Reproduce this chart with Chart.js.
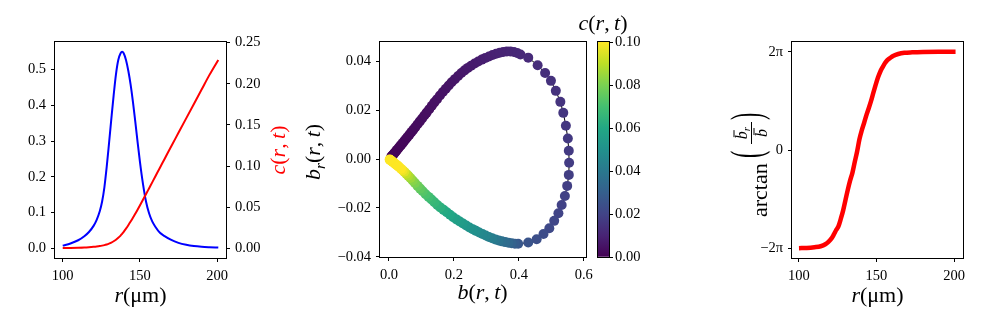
<!DOCTYPE html>
<html><head><meta charset="utf-8">
<script src="https://cdn.jsdelivr.net/npm/chart.js@4.4.1/dist/chart.umd.min.js"></script>
<style>
html,body{margin:0;padding:0;background:#fff;}
#wrap{position:relative;width:981px;height:327px;overflow:hidden;background:#fff;}
canvas{position:absolute;top:0;}
</style></head><body>
<div id="wrap">
<canvas id="c1" width="300" height="327" style="left:0px"></canvas>
<canvas id="c2" width="300" height="327" style="left:300px"></canvas>
<canvas id="c3" width="110" height="327" style="left:560px"></canvas>
<canvas id="c4" width="281" height="327" style="left:700px"></canvas>
</div>
<script>
// ---------- data ----------
const radius = [100,105,110,114,117,120,122,124,125.5,127,128.5,130,131.5,133,134.5,136,137.5,138.5,139.5,141,142.5,144,145.5,147,148.5,150,152,154,156,158,160,163,166,170,175,180,185,190,195,200.8];
const bProfile = [0.0072,0.0132,0.0222,0.0334,0.0454,0.0625,0.0795,0.1035,0.130,0.1705,0.2275,0.2935,0.362,0.428,0.487,0.527,0.546,0.550,0.546,0.527,0.497,0.458,0.410,0.355,0.298,0.243,0.180,0.130,0.097,0.075,0.060,0.043,0.034,0.024,0.015,0.0095,0.006,0.004,0.0028,0.0018];
const cProfile = [0.0007,0.0008,0.0010,0.0013,0.0017,0.0022,0.0026,0.0031,0.0036,0.0042,0.0050,0.0060,0.0073,0.0089,0.0108,0.0131,0.0158,0.0180,0.0203,0.0242,0.0284,0.0328,0.0374,0.0422,0.0472,0.0523,0.0592,0.0662,0.0733,0.0804,0.0875,0.0982,0.1088,0.1230,0.1405,0.1580,0.1755,0.1930,0.2105,0.2290];

const scatterB = [
 0.007,0.009,0.011,0.013,0.016,0.019,0.022,0.025,0.029,0.033,0.037,0.042,0.047,0.052,0.057,0.063,0.069,0.075,0.081,0.088,0.095,0.102,0.109,0.116,0.124,0.132,0.140,0.148,0.157,0.166,0.175,0.184,0.193,0.203,0.213,0.223,0.233,0.243,0.253,0.264,0.275,0.286,0.297,0.308,0.319,0.330,0.341,0.352,0.363,0.374,0.385,0.395,0.405,
 0.429,0.458,0.481,0.499,0.514,0.528,0.537,0.545,0.551,0.554,0.555,0.554,0.549,0.542,0.532,0.522,0.509,0.494,0.476,0.455,0.429,
 0.398,0.388,0.378,0.368,0.358,0.348,0.338,0.328,0.318,0.308,0.298,0.288,0.278,0.268,0.258,0.248,0.238,0.228,0.218,0.208,0.198,0.188,0.178,0.168,0.158,0.149,0.140,0.131,0.122,0.113,0.104,0.096,0.088,0.080,0.073,0.066,0.059,0.053,0.047,0.042,0.037,0.032,0.028,0.024,0.020,0.017,0.014,0.011,0.009,0.007,0.005,0.004,0.003,0.002];
const scatterBr = [
 0.0009,0.0012,0.0015,0.0018,0.0023,0.0028,0.0033,0.0038,0.0044,0.0051,0.0057,0.0065,0.0074,0.0082,0.0090,0.0100,0.0110,0.0120,0.0130,0.0142,0.0154,0.0166,0.0178,0.0190,0.0204,0.0218,0.0232,0.0245,0.0260,0.0274,0.0288,0.0301,0.0314,0.0327,0.0340,0.0352,0.0363,0.0373,0.0382,0.0391,0.0399,0.0407,0.0414,0.0420,0.0426,0.0431,0.0435,0.0438,0.0440,0.0440,0.0438,0.0434,0.0428,
 0.0415,0.0384,0.0352,0.0320,0.0279,0.0234,0.0189,0.0136,0.0084,0.0034,-0.0015,-0.0065,-0.0110,-0.0151,-0.0188,-0.0222,-0.0253,-0.0283,-0.0307,-0.0328,-0.0342,
 -0.0347,-0.0347,-0.0345,-0.0343,-0.0340,-0.0337,-0.0333,-0.0329,-0.0324,-0.0319,-0.0313,-0.0307,-0.0301,-0.0294,-0.0287,-0.0280,-0.0272,-0.0264,-0.0256,-0.0247,-0.0238,-0.0228,-0.0218,-0.0208,-0.0198,-0.0188,-0.0177,-0.0166,-0.0155,-0.0144,-0.0132,-0.0121,-0.0110,-0.0098,-0.0088,-0.0078,-0.0068,-0.0060,-0.0052,-0.0046,-0.0040,-0.0034,-0.0029,-0.0025,-0.0021,-0.0017,-0.0014,-0.0011,-0.0009,-0.0007,-0.0005,-0.0004,-0.0003,-0.0002];
const scatterC = [
 0.0007,0.0008,0.0009,0.0010,0.0011,0.0012,0.0013,0.0014,0.0015,0.0016,0.0017,0.0018,0.0019,0.0020,0.0021,0.0022,0.0024,0.0026,0.0028,0.0030,0.0032,0.0034,0.0036,0.0038,0.0040,0.0042,0.0044,0.0046,0.0048,0.0050,0.0052,0.0054,0.0056,0.0058,0.0060,0.0063,0.0066,0.0069,0.0072,0.0075,0.0078,0.0081,0.0084,0.0087,0.0090,0.0093,0.0096,0.0099,0.0102,0.0105,0.0108,0.0111,0.0114,
 0.0120,0.0128,0.0135,0.0140,0.0145,0.0150,0.0155,0.0160,0.0165,0.0170,0.0175,0.0180,0.0185,0.0190,0.0195,0.0200,0.0210,0.0220,0.0230,0.0240,0.0255,
 0.027,0.029,0.031,0.033,0.035,0.036,0.038,0.040,0.042,0.043,0.045,0.046,0.047,0.049,0.050,0.051,0.052,0.054,0.055,0.056,0.057,0.059,0.060,0.061,0.063,0.064,0.066,0.067,0.069,0.071,0.073,0.075,0.077,0.080,0.082,0.085,0.088,0.091,0.095,0.098,0.101,0.105,0.108,0.112,0.118,0.123,0.128,0.135,0.140,0.147,0.160,0.170,0.182,0.200];

const phaseR = [100,105,110,114,117,119,121,122.5,124,125.5,127,128.5,130,131.5,133,134.5,136,137.5,139,140.5,142,143.5,145,146.5,148,149.5,151,152.5,154,155.5,157,159,161,164,168,173,180,190,201];
const phasePi = [-2.0,-1.995,-1.98,-1.96,-1.92,-1.87,-1.80,-1.72,-1.63,-1.55,-1.40,-1.23,-1.02,-0.81,-0.62,-0.46,-0.24,-0.03,0.22,0.40,0.55,0.71,0.85,1.00,1.17,1.33,1.48,1.60,1.69,1.77,1.83,1.88,1.92,1.955,1.98,1.99,1.997,2.0,2.0];

// tick values / labels
const profileRTicks = [100,150,200];
const bTicks = [0,0.1,0.2,0.3,0.4,0.5];
const cTicks = [0,0.05,0.1,0.15,0.2,0.25];
const scatterXTicks = [0,0.2,0.4,0.6];
const scatterYTicks = [-0.04,-0.02,0,0.02,0.04];
const colorbarTicks = [0,0.02,0.04,0.06,0.08,0.1];
const phaseTicks = [-2,0,2];
const phaseTickLabels = ['\u22122\u03c0','0','2\u03c0'];

// viridis colormap stops (style)
const viridis = ['#440154','#482475','#414487','#355f8d','#2a788e','#21918c','#22a884','#44bf70','#7ad151','#bddf26','#fde725'];
const cbMin = 0, cbMax = 0.1;

// ---------- helpers ----------
const SERIF = "'Liberation Serif','Times New Roman',serif";
const TICKFONT = {family: SERIF, size: 14.5};
function hex(h){return [parseInt(h.slice(1,3),16),parseInt(h.slice(3,5),16),parseInt(h.slice(5,7),16)];}
function cmap(v){
  let t = (v - cbMin)/(cbMax - cbMin); t = Math.max(0, Math.min(1, t));
  const p = t*(viridis.length-1); const i = Math.min(Math.floor(p), viridis.length-2); const f = p - i;
  const a = hex(viridis[i]), b = hex(viridis[i+1]);
  return 'rgb(' + a.map((x,k)=>Math.round(x + (b[k]-x)*f)).join(',') + ')';
}
const minus = s => s.replace('-', '\u2212');
function makeAxis(position, min, max, values, fmt, fit, pad){
  return {
    type:'linear', position, min, max,
    afterBuildTicks: s => { s.ticks = values.map(v => ({value: v})); },
    afterFit: fit,
    grid:{display:true, drawOnChartArea:false, drawTicks:true, tickLength:4, color:'#000', lineWidth:1},
    border:{display:false},
    ticks:{color:'#000', font:TICKFONT, padding: pad === undefined ? 5 : pad, maxRotation:0, autoSkip:false, callback:(v)=>fmt(v)}
  };
}
function mfont(s, it){ return (it ? 'italic ' : '') + s + 'px ' + SERIF; }
function drawMath(ctx, parts, cx, cy, size, color, rotate){
  ctx.save();
  ctx.translate(cx, cy);
  if (rotate) ctx.rotate(-Math.PI/2);
  ctx.fillStyle = color; ctx.textAlign = 'left'; ctx.textBaseline = 'alphabetic';
  let total = 0;
  const ms = parts.map(p => { const s = p.sub ? size*0.7 : size; ctx.font = mfont(s, p.it); const w = ctx.measureText(p.t).width; total += w; return {p, s, w}; });
  let x = -total/2; const base = size*0.24;
  for (const m of ms) { ctx.font = mfont(m.s, m.p.it); ctx.fillText(m.p.t, x, base + (m.p.sub ? size*0.22 : 0)); x += m.w; }
  ctx.restore();
}
const crt = [{t:'c',it:1},{t:'('},{t:'r',it:1},{t:',\u2009'},{t:'t',it:1},{t:')'}];
const brt = [{t:'b',it:1},{t:'r',it:1,sub:1},{t:'('},{t:'r',it:1},{t:',\u2009'},{t:'t',it:1},{t:')'}];
const bbrt = [{t:'b',it:1},{t:'('},{t:'r',it:1},{t:',\u2009'},{t:'t',it:1},{t:')'}];
const rum = [{t:'r',it:1},{t:'(\u03bcm)'}];

function drawArctan(ctx, cx, cy){
  ctx.save();
  ctx.translate(cx, cy); ctx.rotate(-Math.PI/2);
  ctx.fillStyle = '#000'; ctx.strokeStyle = '#000'; ctx.textBaseline = 'alphabetic'; ctx.textAlign = 'left';
  ctx.font = mfont(22, 0);
  ctx.fillText('arctan', -55, 12);
  const paren = (ch, x) => { ctx.save(); ctx.translate(x, -5); ctx.scale(1, 2); ctx.font = mfont(22, 0); ctx.fillText(ch, 0, 0.24*22); ctx.restore(); };
  paren('(', 4);
  paren(')', 42);
  const fx0 = 18, fx1 = 40;
  ctx.lineWidth = 1; ctx.beginPath(); ctx.moveTo(fx0, -3.5); ctx.lineTo(fx1, -3.5); ctx.stroke();
  ctx.font = mfont(16, 1); const wb = ctx.measureText('b').width;
  ctx.font = mfont(11, 1); const wr = ctx.measureText('r').width;
  let nx = (fx0 + fx1)/2 - (wb + wr)/2;
  ctx.font = mfont(16, 1); ctx.fillText('b', nx, -8);
  ctx.beginPath(); ctx.moveTo(nx + 2, -21); ctx.lineTo(nx + wb + 1, -21); ctx.stroke();
  ctx.font = mfont(11, 1); ctx.fillText('r', nx + wb, -5);
  let dx = (fx0 + fx1)/2 - wb/2;
  ctx.font = mfont(16, 1); ctx.fillText('b', dx, 12);
  ctx.beginPath(); ctx.moveTo(dx + 2, -1); ctx.lineTo(dx + wb + 1, -1); ctx.stroke();
  ctx.restore();
}
function deco(extra){
  return { id:'deco', afterDraw(chart){
    const ctx = chart.ctx, a = chart.chartArea;
    ctx.save(); ctx.strokeStyle = '#000'; ctx.lineWidth = 1;
    ctx.strokeRect(Math.round(a.left) - 0.5, Math.round(a.top) - 0.5, Math.round(a.right - a.left) + 1, Math.round(a.bottom - a.top) + 1);
    ctx.restore();
    extra(ctx);
  }};
}
const base = { responsive:false, animation:false, devicePixelRatio:1, plugins:{legend:{display:false}, tooltip:{enabled:false}} };

// ---------- panel 1: profiles ----------
new Chart(document.getElementById('c1'), {
  type:'scatter',
  data:{datasets:[
    {data: radius.map((r,i)=>({x:r, y:cProfile[i]})), showLine:true, borderColor:'#ff0000', borderWidth:2, pointRadius:0, cubicInterpolationMode:'monotone', yAxisID:'y2', order:0},
    {data: radius.map((r,i)=>({x:r, y:bProfile[i]})), showLine:true, borderColor:'#0000ff', borderWidth:2, pointRadius:0, cubicInterpolationMode:'monotone', yAxisID:'y', order:1}
  ]},
  options: Object.assign({}, base, {
    layout:{padding:{top:42, left:0, right:0, bottom:0}},
    scales:{
      x: makeAxis('bottom', 95, 205.8, profileRTicks, v=>String(v), s=>{s.height=69;}),
      y: makeAxis('left', -0.0275, 0.5775, bTicks, v=>v.toFixed(1), s=>{s.width=55;}),
      y2: makeAxis('right', -0.0114, 0.2507, cTicks, v=>v.toFixed(2), s=>{s.width=74;})
    }
  }),
  plugins:[deco(ctx => {
    drawMath(ctx, rum, 140.5, 297, 22, '#000', false);
    drawMath(ctx, crt, 280, 150, 22, '#ff0000', true);
  })]
});

// ---------- panel 2: phase portrait ----------
const pts = scatterB.map((b,i)=>({x:b, y:scatterBr[i]}));
new Chart(document.getElementById('c2'), {
  type:'scatter',
  data:{datasets:[
    {data: pts, pointRadius:5, pointBorderWidth:0, pointBackgroundColor: scatterC.map(cmap), pointBorderColor: scatterC.map(cmap), showLine:false, order:1},
    {data: pts, showLine:true, borderColor:'#000', borderWidth:1, pointRadius:0, order:2}
  ]},
  options: Object.assign({}, base, {
    layout:{padding:{top:42, left:0, right:14, bottom:0}},
    scales:{
      x: makeAxis('bottom', -0.0277, 0.607, scatterXTicks, v=>v.toFixed(1), s=>{s.height=70;}),
      y: makeAxis('left', -0.0401, 0.0479, scatterYTicks, v=>minus(v.toFixed(2)), s=>{s.width=80;})
    }
  }),
  plugins:[deco(ctx => {
    drawMath(ctx, bbrt, 182.5, 294, 22, '#000', false);
    drawMath(ctx, brt, 15, 152, 22, '#000', true);
  })]
});

// ---------- colorbar ----------
new Chart(document.getElementById('c3'), {
  type:'bar',
  data:{labels:['c'], datasets:[{data:[cbMax], barPercentage:1, categoryPercentage:1, borderWidth:0,
    backgroundColor: (c) => {
      const a = c.chart.chartArea; if (!a) return viridis[0];
      const g = c.chart.ctx.createLinearGradient(0, a.bottom, 0, a.top);
      viridis.forEach((col, i) => g.addColorStop(i/(viridis.length-1), col));
      return g;
    }}]},
  options: Object.assign({}, base, {
    layout:{padding:{top:42, left:38, right:0, bottom:70}},
    scales:{
      x: {type:'category', display:false},
      y: makeAxis('right', cbMin, cbMax, colorbarTicks, v=>v.toFixed(2), s=>{s.width=61;}, 2)
    }
  }),
  plugins:[deco(ctx => {
    drawMath(ctx, crt, 43, 25, 22, '#000', false);
  })]
});

// ---------- panel 3: phase angle ----------
new Chart(document.getElementById('c4'), {
  type:'scatter',
  data:{datasets:[
    {data: phaseR.map((r,i)=>({x:r, y:phasePi[i]})), showLine:true, borderColor:'#ff0000', borderWidth:4.5, pointRadius:0, cubicInterpolationMode:'monotone'}
  ]},
  options: Object.assign({}, base, {
    layout:{padding:{top:42, left:0, right:18, bottom:0}},
    scales:{
      x: makeAxis('bottom', 95.5, 205.8, profileRTicks, v=>String(v), s=>{s.height=69;}),
      y: makeAxis('left', -2.2, 2.2, phaseTicks, v=>phaseTickLabels[phaseTicks.indexOf(v)], s=>{s.width=92;})
    }
  }),
  plugins:[deco(ctx => {
    drawMath(ctx, rum, 177.5, 297, 22, '#000', false);
    drawArctan(ctx, 55, 162);
  })]
});
</script>
</body></html>
